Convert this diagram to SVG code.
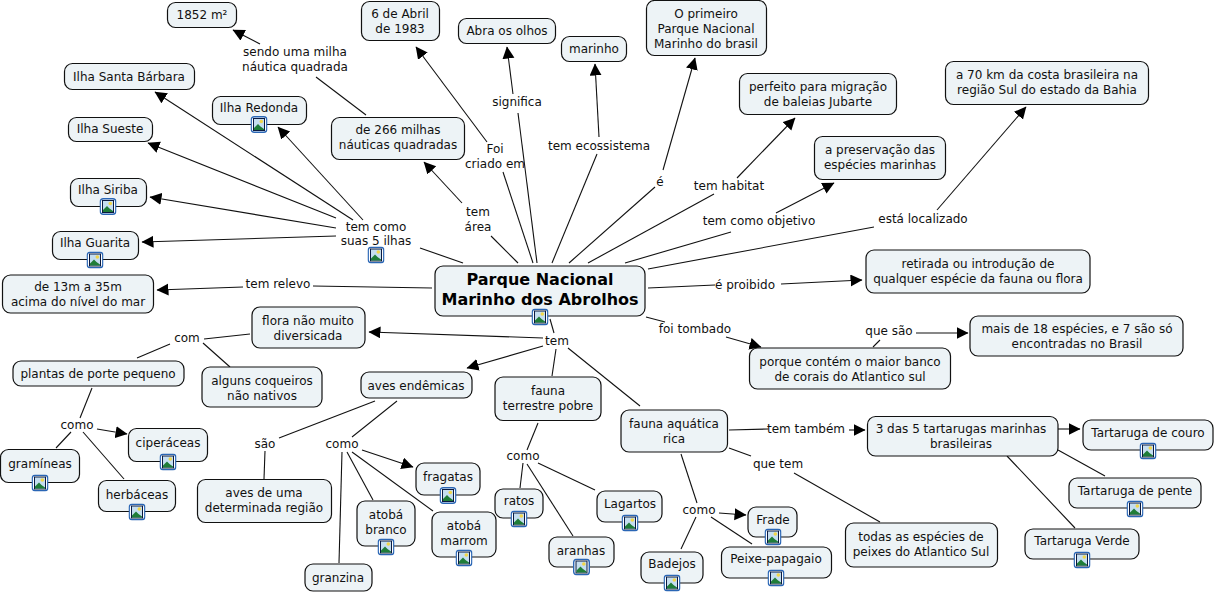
<svg xmlns="http://www.w3.org/2000/svg" width="1216" height="595" viewBox="0 0 1216 595">
<style>
text{font-family:"DejaVu Sans",Verdana,sans-serif;font-size:12px;fill:#111;text-anchor:middle}
.n{fill:#edf3f6;stroke:#111;stroke-width:1.2}
.c line{stroke:#111;stroke-width:1.1}
.a{marker-end:url(#ah)}
.t{font-size:16px;font-weight:bold;fill:#000}
</style>
<defs>
<marker id="ah" markerUnits="userSpaceOnUse" markerWidth="13" markerHeight="13" refX="11.500" refY="6" orient="auto"><path d="M0 0L12 6L0 12Z" fill="#000"/></marker>
<symbol id="ic" viewBox="0 0 17 17"><rect x=".7" y=".7" width="15.600" height="15.600" rx="3" fill="#fff" stroke="#2a66b5" stroke-width="1.400"/><rect x="3" y="2.500" width="11" height="12" fill="#c5def0" stroke="#0a1a40"/><path d="M3.500 14V12L7.500 8L10 10.500L13.500 13V14Z" fill="#1f7d38"/><circle cx="10.800" cy="5.500" r="1.800" fill="#f2d64a"/></symbol>
</defs>
<g id="connectors" class="c">
<line x1="463" y1="263" x2="420" y2="248"/>
<line class="a" x1="353" y1="220" x2="155" y2="92"/>
<line class="a" x1="363" y1="220" x2="278" y2="127"/>
<line class="a" x1="336" y1="218" x2="148" y2="143"/>
<line class="a" x1="336" y1="228" x2="150" y2="197"/>
<line class="a" x1="336" y1="236" x2="142" y2="242"/>
<line x1="432" y1="288" x2="313" y2="286"/>
<line class="a" x1="243" y1="287" x2="157" y2="290"/>
<line x1="366" y1="115" x2="316" y2="77"/>
<line class="a" x1="260" y1="44" x2="233" y2="30"/>
<line x1="518" y1="263" x2="491" y2="236"/>
<line class="a" x1="462" y1="203" x2="424" y2="162"/>
<line x1="533" y1="263" x2="503" y2="172"/>
<line class="a" x1="487" y1="142" x2="416" y2="47"/>
<line x1="537" y1="263" x2="518" y2="113"/>
<line class="a" x1="513" y1="94" x2="507" y2="47"/>
<line x1="552" y1="263" x2="597" y2="154"/>
<line class="a" x1="599" y1="137" x2="595" y2="64"/>
<line x1="569" y1="263" x2="655" y2="187"/>
<line class="a" x1="663" y1="170" x2="695" y2="58"/>
<line x1="588" y1="263" x2="714" y2="194"/>
<line class="a" x1="737" y1="178" x2="795" y2="118"/>
<line x1="625" y1="263" x2="731" y2="232"/>
<line class="a" x1="776" y1="213" x2="834" y2="183"/>
<line x1="648" y1="269" x2="874" y2="227"/>
<line class="a" x1="937" y1="210" x2="1026" y2="107"/>
<line x1="648" y1="288" x2="715" y2="285"/>
<line class="a" x1="781" y1="284" x2="862" y2="280"/>
<line x1="646" y1="317" x2="665" y2="322"/>
<line class="a" x1="726" y1="337" x2="761" y2="347"/>
<line x1="873" y1="347" x2="880" y2="340"/>
<line class="a" x1="916" y1="333" x2="968" y2="333"/>
<line x1="550" y1="319" x2="554" y2="333"/>
<line class="a" x1="543" y1="338" x2="369" y2="332"/>
<line class="a" x1="543" y1="346" x2="467" y2="368"/>
<line x1="556" y1="349" x2="552" y2="376"/>
<line x1="568" y1="348" x2="640" y2="406"/>
<line x1="250" y1="334" x2="204" y2="339"/>
<line x1="170" y1="344" x2="137" y2="358"/>
<line x1="203" y1="343" x2="230" y2="367"/>
<line x1="92" y1="388" x2="80" y2="418"/>
<line x1="71" y1="432" x2="56" y2="448"/>
<line class="a" x1="97" y1="429" x2="127" y2="434"/>
<line x1="83" y1="432" x2="124" y2="479"/>
<line x1="375" y1="401" x2="279" y2="438"/>
<line x1="265" y1="451" x2="264" y2="479"/>
<line x1="397" y1="401" x2="352" y2="437"/>
<line class="a" x1="362" y1="450" x2="413" y2="467"/>
<line x1="342" y1="452" x2="339" y2="563"/>
<line x1="347" y1="452" x2="373" y2="500"/>
<line x1="352" y1="452" x2="433" y2="511"/>
<line x1="538" y1="423" x2="527" y2="450"/>
<line x1="523" y1="463" x2="520" y2="488"/>
<line x1="538" y1="463" x2="595" y2="490"/>
<line x1="527" y1="464" x2="573" y2="536"/>
<line x1="729" y1="430" x2="768" y2="429"/>
<line class="a" x1="849" y1="430" x2="865" y2="430"/>
<line x1="729" y1="448" x2="751" y2="456"/>
<line x1="794" y1="473" x2="880" y2="522"/>
<line x1="681" y1="454" x2="697" y2="503"/>
<line class="a" x1="719" y1="513" x2="746" y2="515"/>
<line x1="711" y1="517" x2="752" y2="544"/>
<line x1="696" y1="517" x2="681" y2="549"/>
<line class="a" x1="1058" y1="429" x2="1080" y2="429"/>
<line x1="1058" y1="450" x2="1105" y2="476"/>
<line x1="1007" y1="456" x2="1075" y2="528"/>
</g>
<g id="n1"><rect class="n" x="167.500" y="2.500" width="69" height="25" rx="8"/><text x="202" y="19">1852 m²</text></g>
<g id="n2"><rect class="n" x="361.500" y="1.500" width="78" height="39" rx="8"/><text x="400" y="18">6 de Abril</text><text x="400" y="33">de 1983</text></g>
<g id="n3"><rect class="n" x="458.500" y="18.500" width="97" height="25" rx="8"/><text x="507" y="35">Abra os olhos</text></g>
<g id="n4"><rect class="n" x="561.500" y="36.500" width="65" height="25" rx="8"/><text x="594" y="53">marinho</text></g>
<g id="n5"><rect class="n" x="646.500" y="0.500" width="120" height="55" rx="8"/><text x="706" y="18">O primeiro</text><text x="706" y="33">Parque Nacional</text><text x="706" y="48">Marinho do brasil</text></g>
<g id="n6"><rect class="n" x="739.500" y="73.500" width="157" height="41" rx="8"/><text x="818" y="91">perfeito para migração</text><text x="818" y="106">de baleias Jubarte</text></g>
<g id="n7"><rect class="n" x="945.500" y="61.500" width="203" height="43" rx="8"/><text x="1047" y="79">a 70 km da costa brasileira na</text><text x="1047" y="94">região Sul do estado da Bahia</text></g>
<g id="n8"><rect class="n" x="814.500" y="136.500" width="131" height="43" rx="8"/><text x="880" y="154">a preservação das</text><text x="880" y="169">espécies marinhas</text></g>
<g id="n9"><rect class="n" x="64.500" y="63.500" width="130" height="26" rx="8"/><text x="129" y="81">Ilha Santa Bárbara</text></g>
<g id="n10"><rect class="n" x="212.500" y="96.500" width="94" height="28" rx="8"/><text x="259" y="112">Ilha Redonda</text><use href="#ic" x="250.500" y="116" width="17" height="17"/></g>
<g id="n11"><rect class="n" x="68.500" y="117.500" width="84" height="24" rx="8"/><text x="110" y="133">Ilha Sueste</text></g>
<g id="n12"><rect class="n" x="331.500" y="117.500" width="133" height="42" rx="8"/><text x="398" y="134">de 266 milhas</text><text x="398" y="149">náuticas quadradas</text></g>
<g id="n13"><rect class="n" x="70.500" y="178.500" width="76" height="28" rx="8"/><text x="108" y="194">Ilha Siriba</text><use href="#ic" x="99.500" y="198" width="17" height="17"/></g>
<g id="n14"><rect class="n" x="52.500" y="231.500" width="86" height="28" rx="8"/><text x="95" y="247">Ilha Guarita</text><use href="#ic" x="86.500" y="251.500" width="17" height="17"/></g>
<g id="n15"><rect class="n" x="2.500" y="275" width="151" height="38" rx="8"/><text x="78" y="291">de 13m a 35m</text><text x="78" y="306">acima do nível do mar</text></g>
<g id="central"><rect class="n" x="435" y="266" width="210" height="50" rx="8"/><text class="t" x="540" y="285">Parque Nacional</text><text class="t" x="540" y="305">Marinho dos Abrolhos</text><use href="#ic" x="531.500" y="308.500" width="17" height="17"/></g>
<g id="n16"><rect class="n" x="866" y="250" width="224" height="43" rx="8"/><text x="978" y="268">retirada ou introdução de</text><text x="978" y="283">qualquer espécie da fauna ou flora</text></g>
<g id="n17"><rect class="n" x="252" y="307" width="113" height="41" rx="8"/><text x="308" y="325">flora não muito</text><text x="308" y="340">diversicada</text></g>
<g id="n18"><rect class="n" x="970" y="316" width="213" height="40" rx="8"/><text x="1077" y="333">mais de 18 espécies, e 7 são só</text><text x="1077" y="348">encontradas no Brasil</text></g>
<g id="n19"><rect class="n" x="749.500" y="348" width="201" height="41" rx="8"/><text x="850" y="366">porque contém o maior banco</text><text x="850" y="381">de corais do Atlantico sul</text></g>
<g id="n20"><rect class="n" x="13" y="361" width="171" height="25" rx="8"/><text x="98" y="378">plantas de porte pequeno</text></g>
<g id="n21"><rect class="n" x="202" y="367" width="120" height="40" rx="8"/><text x="262" y="385">alguns coqueiros</text><text x="262" y="400">não nativos</text></g>
<g id="n22"><rect class="n" x="361" y="372" width="111" height="26" rx="8"/><text x="416" y="390">aves endêmicas</text></g>
<g id="n23"><rect class="n" x="495" y="377" width="106" height="43.500" rx="8"/><text x="548" y="395">fauna</text><text x="548" y="410">terrestre pobre</text></g>
<g id="n24"><rect class="n" x="621" y="410" width="106.500" height="42" rx="8"/><text x="674" y="428">fauna aquática</text><text x="674" y="443">rica</text></g>
<g id="n25"><rect class="n" x="867.500" y="416.500" width="190.500" height="39.500" rx="8"/><text x="961" y="433">3 das 5 tartarugas marinhas</text><text x="961" y="448">brasileiras</text></g>
<g id="n26"><rect class="n" x="1083" y="420" width="130" height="30" rx="8"/><text x="1148" y="437">Tartaruga de couro</text><use href="#ic" x="1139.500" y="442.500" width="17" height="17"/></g>
<g id="n27"><rect class="n" x="1069" y="478" width="132" height="30" rx="8"/><text x="1135" y="495">Tartaruga de pente</text><use href="#ic" x="1126.500" y="500.500" width="17" height="17"/></g>
<g id="n28"><rect class="n" x="1025" y="529" width="114" height="30" rx="8"/><text x="1082" y="545">Tartaruga Verde</text><use href="#ic" x="1073.500" y="551.500" width="17" height="17"/></g>
<g id="n29"><rect class="n" x="128.500" y="428.500" width="79" height="33" rx="8"/><text x="168" y="447">ciperáceas</text><use href="#ic" x="159.500" y="453.500" width="17" height="17"/></g>
<g id="n30"><rect class="n" x="0.500" y="449.500" width="79" height="33" rx="8"/><text x="40" y="468">gramíneas</text><use href="#ic" x="31.500" y="474.500" width="17" height="17"/></g>
<g id="n31"><rect class="n" x="98.500" y="480.500" width="77" height="31" rx="8"/><text x="137" y="499">herbáceas</text><use href="#ic" x="128.500" y="503.500" width="17" height="17"/></g>
<g id="n32"><rect class="n" x="197.500" y="479.500" width="134" height="43" rx="8"/><text x="264" y="497">aves de uma</text><text x="264" y="512">determinada região</text></g>
<g id="n33"><rect class="n" x="416" y="463" width="64" height="32" rx="8"/><text x="448" y="481">fragatas</text><use href="#ic" x="439.500" y="487" width="17" height="17"/></g>
<g id="n34"><rect class="n" x="495" y="489" width="48" height="29" rx="8"/><text x="519" y="505">ratos</text><use href="#ic" x="510.500" y="510.500" width="17" height="17"/></g>
<g id="n35"><rect class="n" x="597" y="491" width="65" height="31" rx="8"/><text x="630" y="508">Lagartos</text><use href="#ic" x="621.500" y="514.500" width="17" height="17"/></g>
<g id="n36"><rect class="n" x="357" y="501" width="58" height="45" rx="8"/><text x="386" y="519">atobá</text><text x="386" y="534">branco</text><use href="#ic" x="377.500" y="538.500" width="17" height="17"/></g>
<g id="n37"><rect class="n" x="432" y="512" width="64" height="45" rx="8"/><text x="464" y="530">atobá</text><text x="464" y="545">marrom</text><use href="#ic" x="455.500" y="549.500" width="17" height="17"/></g>
<g id="n38"><rect class="n" x="549" y="537" width="65" height="30" rx="8"/><text x="581" y="555">aranhas</text><use href="#ic" x="573" y="558.500" width="17" height="17"/></g>
<g id="n39"><rect class="n" x="305" y="564" width="67" height="27" rx="8"/><text x="338" y="582">granzina</text></g>
<g id="n40"><rect class="n" x="748" y="507" width="49" height="30" rx="8"/><text x="773" y="524">Frade</text><use href="#ic" x="764.500" y="528.500" width="17" height="17"/></g>
<g id="n41"><rect class="n" x="721.500" y="547" width="110" height="31" rx="8"/><text x="776" y="563">Peixe-papagaio</text><use href="#ic" x="767.500" y="569.500" width="17" height="17"/></g>
<g id="n42"><rect class="n" x="641" y="552" width="62" height="31" rx="8"/><text x="672" y="568">Badejos</text><use href="#ic" x="663.500" y="574.500" width="17" height="17"/></g>
<g id="n43"><rect class="n" x="845.500" y="523" width="152" height="44" rx="8"/><text x="921" y="541">todas as espécies de</text><text x="921" y="556">peixes do Atlantico Sul</text></g>
<g id="l1"><text x="295" y="56">sendo uma milha</text><text x="295" y="71">náutica quadrada</text></g>
<g id="l2"><text x="376" y="231">tem como</text><text x="376" y="245">suas 5 ilhas</text><use href="#ic" x="367.500" y="246.500" width="17" height="17"/></g>
<g id="l3"><text x="278" y="288">tem relevo</text></g>
<g id="l4"><text x="478" y="216">tem</text><text x="478" y="231">área</text></g>
<g id="l5"><text x="495" y="153">Foi</text><text x="495" y="168">criado em</text></g>
<g id="l6"><text x="517" y="106">significa</text></g>
<g id="l7"><text x="599" y="150">tem ecossistema</text></g>
<g id="l8"><text x="660" y="186">é</text></g>
<g id="l9"><text x="729" y="190">tem habitat</text></g>
<g id="l10"><text x="759" y="225">tem como objetivo</text></g>
<g id="l11"><text x="923" y="223">está localizado</text></g>
<g id="l12"><text x="745" y="289">é proibido</text></g>
<g id="l13"><text x="695" y="333">foi tombado</text></g>
<g id="l14"><text x="889" y="335">que são</text></g>
<g id="l15"><text x="557" y="345">tem</text></g>
<g id="l16"><text x="187" y="342">com</text></g>
<g id="l17"><text x="77" y="429">como</text></g>
<g id="l18"><text x="265" y="448">são</text></g>
<g id="l19"><text x="342" y="448">como</text></g>
<g id="l20"><text x="523" y="460">como</text></g>
<g id="l21"><text x="806" y="433">tem também</text></g>
<g id="l22"><text x="778" y="468">que tem</text></g>
<g id="l23"><text x="699" y="514">como</text></g>
</svg>
